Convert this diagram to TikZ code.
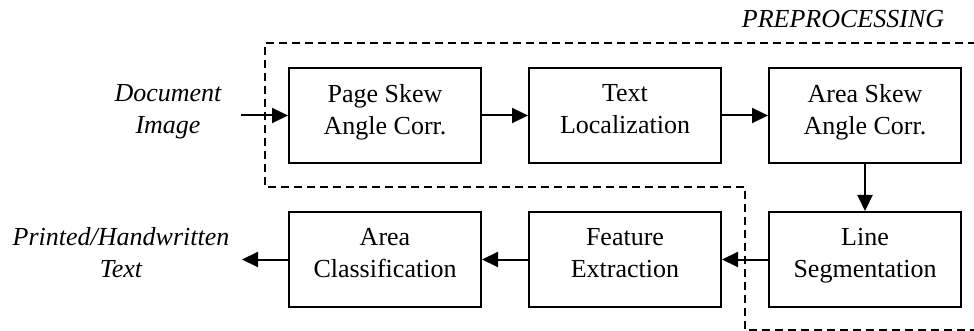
\documentclass[tikz,border=0pt]{standalone}
\usepackage{fontspec}
\setmainfont{Liberation Serif}
\usetikzlibrary{arrows.meta}
\begin{document}
\begin{tikzpicture}[x=1pt,y=-1pt,
  font=\fontsize{26}{32}\selectfont,
  stage/.style={draw,line width=2pt,rectangle,minimum width=192pt,minimum height=95pt,
    align=center,inner sep=0pt,text depth=13pt},
  io/.style={align=center,font=\fontsize{26}{32}\selectfont\itshape},
  flow/.style={line width=2pt,-{Triangle[length=16pt,width=15pt]}},
  region/.style={line width=1.6pt,dash pattern=on 8pt off 5pt}]
\useasboundingbox (0,0) rectangle (974,331);

% preprocessing region (open to the right)
\begin{scope}
\clip (0,0) rectangle (974,331);
\draw[region] (976,43) -- (265,43) -- (265,187) -- (745,187) -- (745,330) -- (980,330);
\end{scope}
\node[io,anchor=base] (pre) at (843,28) {PREPROCESSING};

% processing stages
\node[stage] (skew)  at (385,115.5) {Page Skew\\Angle Corr.};
\node[stage] (loc)   at (625,115.5) {Text\\Localization};
\node[stage] (askew) at (865,115.5) {Area Skew\\Angle Corr.};
\node[stage] (lseg)  at (865,259.5) {Line\\Segmentation};
\node[stage] (feat)  at (625,259.5) {Feature\\Extraction};
\node[stage] (cls)   at (385,259.5) {Area\\Classification};

% input and output
\node[io] (doc) at (168,112) {Document\\Image};
\node[io] (out) at (121,253) {Printed/Handwritten\\Text};
\coordinate (inp) at (241,115.5);
\coordinate (outp) at (242,259.5);

\draw[flow] (inp) -- (skew);
\draw[flow] (skew) -- (loc);
\draw[flow] (loc) -- (askew);
\draw[flow] (askew) -- (lseg);
\draw[flow] (lseg) -- (feat);
\draw[flow] (feat) -- (cls);
\draw[flow] (cls) -- (outp);
\end{tikzpicture}
\end{document}
